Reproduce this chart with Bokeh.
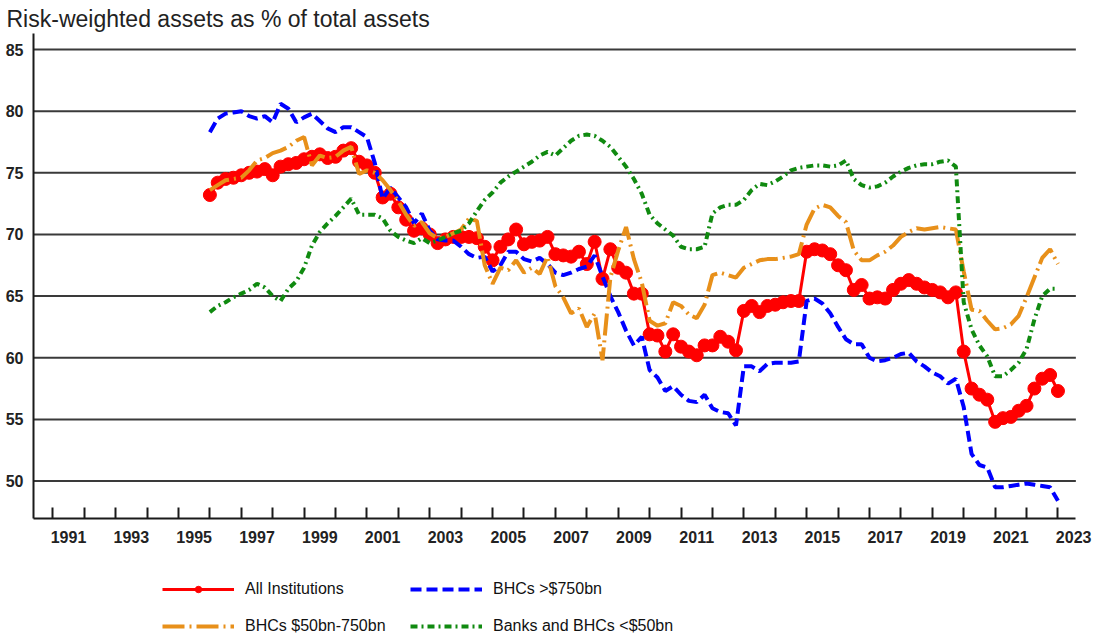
from bokeh.plotting import figure
from bokeh.layouts import column
from bokeh.models import Range1d, FixedTicker, Legend, LegendItem
from bokeh.embed import file_html
from bokeh.resources import INLINE

title_text = "Risk-weighted assets as % of total assets"

# quarterly observations, first one at the start of 1996
first_year = 1996
n_quarters = 109
quarters = [first_year + q / 4 for q in range(n_quarters)]

label_years = list(range(1991, 2024, 2))
tick_years = list(range(1991, 2024))
y_ticks = [50, 55, 60, 65, 70, 75, 80, 85]

all_institutions = [
    73.2, 74.2, 74.5, 74.6, 74.8, 75.0, 75.1, 75.3, 74.8, 75.5,
    75.7, 75.8, 76.1, 76.3, 76.5, 76.2, 76.3, 76.8, 77.0, 75.9,
    75.6, 75.0, 73.0, 73.3, 72.2, 71.2, 70.3, 70.5, 70.0, 69.3,
    69.6, 69.8, 69.8, 69.8, 69.7, 69.0, 67.9, 69.0, 69.6, 70.4,
    69.2, 69.4, 69.5, 69.8, 68.4, 68.3, 68.2, 68.6, 67.6, 69.4,
    66.4, 68.8, 67.3, 66.9, 65.2, 65.2, 61.9, 61.8, 60.5, 61.9,
    60.9, 60.5, 60.2, 61.0, 61.0, 61.7, 61.3, 60.6, 63.8, 64.2,
    63.7, 64.2, 64.3, 64.5, 64.6, 64.6, 68.6, 68.8, 68.7, 68.4,
    67.5, 67.1, 65.5, 65.9, 64.8, 64.9, 64.8, 65.5, 66.0, 66.3,
    66.0, 65.7, 65.5, 65.3, 64.9, 65.3, 60.5, 57.5, 57.0, 56.6,
    54.8, 55.1, 55.2, 55.7, 56.1, 57.5, 58.3, 58.6, 57.3,
]

bhcs_over_750bn = [
    78.3, 79.4, 79.8, 79.9, 80.0, 79.6, 79.4, 79.6, 79.1, 80.6,
    80.2, 79.1, 79.5, 79.8, 79.2, 78.6, 78.3, 78.7, 78.7, 78.3,
    77.9, 75.8, 72.9, 73.8, 73.0, 72.2, 70.9, 71.7, 70.3, 69.6,
    69.5, 69.5, 69.0, 68.4, 68.1, 68.2, 67.0, 67.5, 68.6, 68.6,
    68.0, 67.8, 68.1, 67.6, 66.9, 66.7, 66.9, 67.2, 67.4, 68.3,
    66.6, 65.0, 63.7, 62.2, 61.0, 61.7, 59.0, 58.4, 57.3, 57.7,
    57.0, 56.5, 56.4, 57.0, 55.9, 55.6, 55.5, 54.5, 59.3, 59.3,
    58.9, 59.5, 59.6, 59.6, 59.6, 59.7, 64.6, 64.8, 64.4, 63.6,
    62.5, 61.5, 61.1, 61.1, 60.0, 59.7, 59.8, 60.0, 60.3, 60.4,
    59.7, 59.3, 58.8, 58.5, 57.9, 58.3, 56.0, 52.2, 51.3, 51.1,
    49.5, 49.5, 49.6, 49.7, 49.8, 49.7, 49.6, 49.5, 48.4,
]

bhcs_50bn_750bn = [
    73.6, 74.0, 74.4, 74.5, 74.6, 75.2, 76.0, 76.2, 76.6, 76.8,
    77.1, 77.6, 77.9, 75.6, 76.4, 76.2, 76.3, 76.8, 77.1, 74.9,
    75.2, 75.0, 74.4, 73.6, 72.7, 71.6, 70.7, 71.0, 70.1, 69.7,
    69.8, 70.1, 70.4, 71.3, 71.1, 67.5, 66.0, 67.3, 67.1, 67.9,
    66.9, 67.3, 66.8, 68.2, 65.8, 64.9, 63.6, 64.0, 62.5, 63.6,
    59.8, 66.5, 68.7, 70.6, 68.0, 66.1, 63.0, 62.6, 62.8, 64.5,
    64.2, 63.5, 63.2, 64.3, 66.7, 66.9, 66.7, 66.5, 67.3, 67.6,
    67.9, 68.0, 68.0, 68.1, 68.2, 68.4, 70.8, 72.1, 72.4, 72.2,
    71.5, 71.0, 68.7, 67.9, 67.9, 68.3, 68.6, 69.1, 69.8, 70.2,
    70.5, 70.4, 70.5, 70.6, 70.5, 70.4, 67.0, 63.9, 63.8, 63.0,
    62.3, 62.4, 62.7, 63.4, 64.9, 66.5, 68.1, 68.8, 67.6,
]

banks_under_50bn = [
    63.7, 64.2, 64.5, 64.9, 65.2, 65.5, 66.0, 65.7, 65.0, 64.6,
    65.6, 66.2, 67.3, 69.1, 70.2, 70.9, 71.5, 72.2, 72.9, 71.6,
    71.6, 71.6, 71.3, 70.3, 69.8, 69.5, 69.3, 69.7, 69.3, 69.5,
    69.8, 70.1, 70.3, 70.9, 71.9, 72.8, 73.4, 74.2, 74.7, 75.1,
    75.5, 75.9, 76.4, 76.7, 76.4, 77.0, 77.6, 78.0, 78.1, 78.0,
    77.6, 77.1, 76.3, 75.5, 74.5, 73.3, 71.6, 70.9, 70.4, 69.9,
    69.0, 68.8, 68.8, 69.0, 71.7, 72.2, 72.4, 72.4, 72.8, 73.6,
    74.1, 74.0, 74.3, 74.7, 75.2, 75.4, 75.5, 75.6, 75.6, 75.5,
    75.6, 76.0, 74.5, 74.0, 73.8, 73.9, 74.2, 74.7, 75.1, 75.4,
    75.6, 75.7, 75.7, 75.9, 76.0, 75.5, 64.5, 62.3, 61.0, 60.1,
    58.5, 58.5, 59.0, 59.6, 60.7, 63.1, 65.0, 65.6, 65.6,
]

series_labels = ["All Institutions", "BHCs >$750bn", "BHCs $50bn-750bn", "Banks and BHCs <$50bn"]

TEXT_FONT = "'Liberation Sans', Arial, sans-serif"
INK = "#1a1a1a"

RED, BLUE, ORANGE, GREEN = "#FF0000", "#0000FF", "#E8901A", "#108A10"
styles = {
    "blue": dict(line_color=BLUE, line_width=4, line_dash="11 5"),
    "orange": dict(line_color=ORANGE, line_width=4, line_dash="22 5 2 5"),
    "green": dict(line_color=GREEN, line_width=4, line_dash="7 4 2 4"),
}

X_START, X_AXIS_END, X_VIEW_END = 1990.385, 2023.57, 2024.1
Y_START, Y_END = 46.96, 86.3

W = 1092
p = figure(
    width=W, height=550,
    output_backend="svg", toolbar_location=None,
    x_range=Range1d(X_START, X_VIEW_END), y_range=Range1d(Y_START, Y_END),
    min_border_left=33, min_border_right=0, min_border_top=33, min_border_bottom=32,
    background_fill_color="white", border_fill_color="white",
)
p.outline_line_color = None

p.title.text = title_text
p.title.align = "left"
p.title.offset = -27
p.title.standoff = 3
p.title.text_font = TEXT_FONT
p.title.text_font_size = "23px"
p.title.text_font_style = "normal"
p.title.text_color = "#222222"

# y axis
p.yaxis.ticker = FixedTicker(ticks=y_ticks)
p.yaxis.major_tick_line_color = None
p.yaxis.major_tick_out = 0
p.yaxis.major_tick_in = 0
p.yaxis.minor_tick_line_color = None
p.yaxis.axis_line_color = INK
p.yaxis.axis_line_width = 2
p.yaxis.major_label_standoff = 10
p.yaxis.major_label_text_font = TEXT_FONT
p.yaxis.major_label_text_font_size = "16px"
p.yaxis.major_label_text_font_style = "bold"
p.yaxis.major_label_text_color = "#222222"

# x axis: tick marks at year boundaries, labels centred within odd years
p.xaxis.bounds = (X_START, X_AXIS_END)
p.xaxis.ticker = FixedTicker(ticks=[y + 0.5 for y in label_years], minor_ticks=tick_years)
p.xaxis.major_label_overrides = {y + 0.5: str(y) for y in label_years}
p.xaxis.major_tick_line_color = None
p.xaxis.major_tick_out = 0
p.xaxis.major_tick_in = 0
p.xaxis.minor_tick_line_color = INK
p.xaxis.minor_tick_line_width = 2
p.xaxis.minor_tick_in = 11
p.xaxis.minor_tick_out = 0
p.xaxis.axis_line_color = INK
p.xaxis.axis_line_width = 2
p.xaxis.major_label_standoff = 12
p.xaxis.major_label_text_font = TEXT_FONT
p.xaxis.major_label_text_font_size = "16px"
p.xaxis.major_label_text_font_style = "bold"
p.xaxis.major_label_text_color = "#222222"

# horizontal grid lines that stop where the x axis stops
p.xgrid.visible = False
p.ygrid.visible = False
p.segment(x0=[X_START] * len(y_ticks), y0=y_ticks, x1=[X_AXIS_END] * len(y_ticks), y1=y_ticks,
          line_color="#3a3a3a", line_width=2)

p.line(quarters, all_institutions, line_color=RED, line_width=3)
p.scatter(quarters, all_institutions, size=13, fill_color=RED, line_color=RED)
p.line(quarters, bhcs_over_750bn, **styles["blue"])
p.line(quarters, bhcs_50bn_750bn, **styles["orange"])
p.line(quarters, banks_under_50bn, **styles["green"])

# legend panel below the chart (legend-only figure holding the key glyphs)
leg = figure(
    width=W, height=86, output_backend="svg", toolbar_location=None,
    x_axis_type=None, y_axis_type=None, min_border=0,
    x_range=Range1d(0, 1), y_range=Range1d(0, 1),
    background_fill_color="white", border_fill_color="white",
)
leg.outline_line_color = None
nan = float("nan")
k_red_line = leg.line([nan], [nan], line_color=RED, line_width=3)
k_red_pt = leg.scatter([nan], [nan], size=13, fill_color=RED, line_color=RED)
k_blue = leg.line([nan], [nan], **styles["blue"])
k_orange = leg.line([nan], [nan], **styles["orange"])
k_green = leg.line([nan], [nan], **styles["green"])

legend = Legend(
    items=[
        LegendItem(label=series_labels[0], renderers=[k_red_line, k_red_pt]),
        LegendItem(label=series_labels[1], renderers=[k_blue]),
        LegendItem(label=series_labels[2], renderers=[k_orange]),
        LegendItem(label=series_labels[3], renderers=[k_green]),
    ],
    location=(129, 1),
    orientation="horizontal",
    ncols=2,
    glyph_width=72, glyph_height=16,
    label_standoff=11, label_width=146, label_height=16,
    spacing=19, padding=0, margin=0,
    border_line_color=None, background_fill_alpha=0,
    label_text_font=TEXT_FONT, label_text_font_size="16px",
    label_text_color="#111111",
)
leg.add_layout(legend, "center")

layout = column(p, leg, spacing=0)
html = file_html(layout, INLINE)
open("out.html", "w").write(html)
